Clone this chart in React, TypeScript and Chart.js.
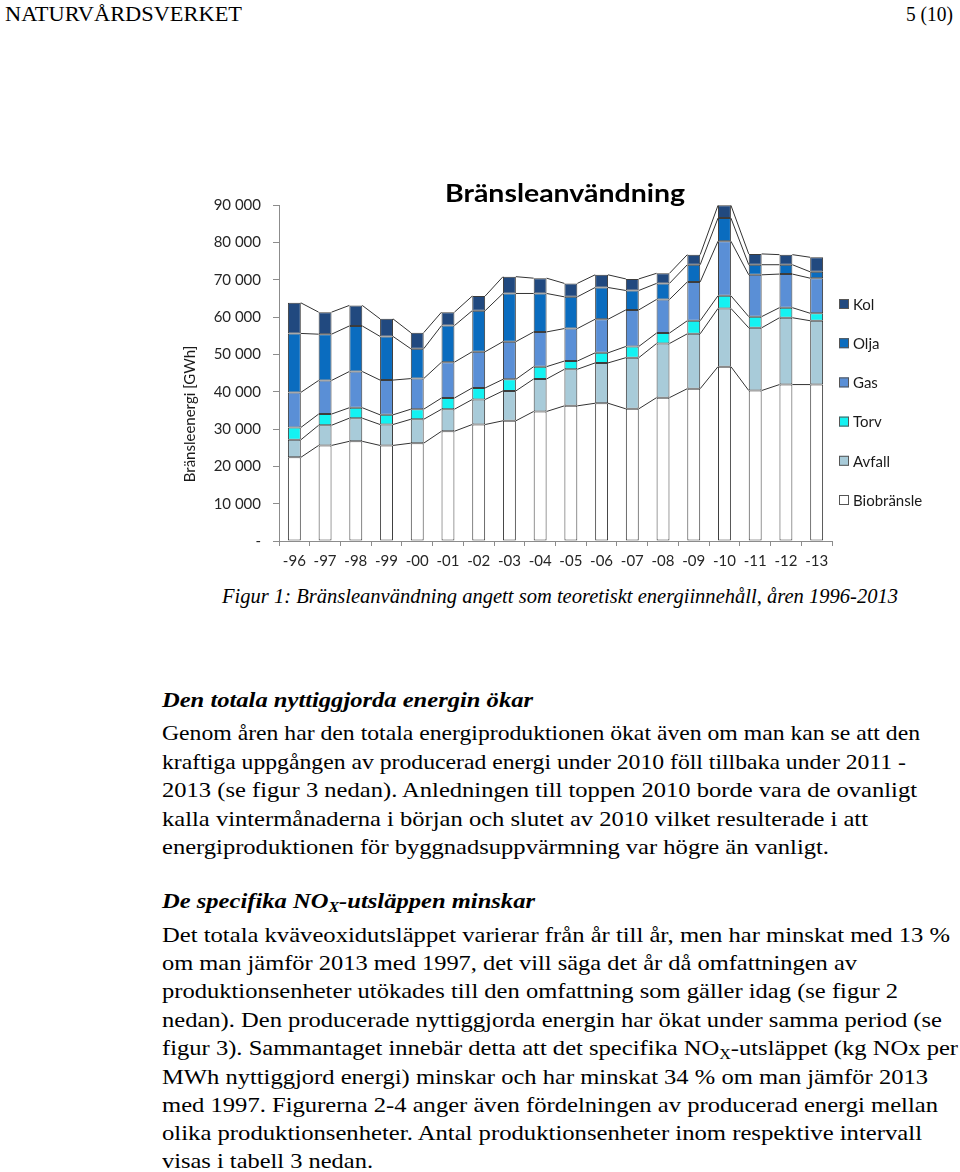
import React, { useEffect, useLayoutEffect, useRef } from "react";
import { Chart, registerables } from "chart.js";

Chart.register(...registerables);

const years = ["-96", "-97", "-98", "-99", "-00", "-01", "-02", "-03", "-04", "-05", "-06", "-07", "-08", "-09", "-10", "-11", "-12", "-13"];
const biobransle = [22400, 25600, 26700, 25600, 26200, 29400, 31200, 32200, 34700, 36200, 36900, 35400, 38400, 40800, 46700, 40300, 41900, 41900];
const avfall = [4700, 5400, 6200, 5600, 6400, 5900, 6700, 8000, 8700, 9800, 10800, 13700, 14500, 14700, 15600, 16800, 17900, 17100];
const torv = [3300, 3000, 2800, 2600, 2700, 3000, 3100, 3100, 3300, 2200, 2700, 3000, 2800, 3500, 3400, 3000, 2700, 2000];
const gas = [9400, 9000, 9700, 9300, 8200, 9600, 9700, 10100, 9300, 8700, 9000, 9800, 9000, 10400, 14600, 11200, 9000, 9400];
const olja = [15800, 12400, 12200, 11700, 8000, 9800, 11000, 12900, 10300, 8500, 8500, 5200, 4300, 4600, 6200, 2700, 2500, 1700];
const kol = [8200, 5900, 5500, 4700, 4300, 3600, 3900, 4500, 4100, 3600, 3400, 3100, 2700, 2700, 3400, 2900, 2700, 3900];

const seriesNames = ["Biobränsle", "Avfall", "Torv", "Gas", "Olja", "Kol"];
const seriesColors = ["#FFFFFF", "#A8CBD9", "#14F2F2", "#5A8FD6", "#0A6CBF", "#21497F"];
const yMax = 90000;
const yStep = 10000;

const chartTitle = "Bränsleanvändning";
const yAxisTitle = "Bränsleenergi [GWh]";
const FONT = "Lato, 'Noto Sans', sans-serif";

const formatTick = (v: number) => {
  if (v === 0) return "-";
  const s = String(Math.round(v));
  return s.replace(/\B(?=(\d{3})+(?!\d))/g, " ");
};

const seriesLinesPlugin = {
  id: "seriesLines",
  afterDatasetsDraw(chart: any) {
    const ctx = chart.ctx;
    ctx.save();
    ctx.strokeStyle = "#333333";
    ctx.lineWidth = 1;
    chart.data.datasets.forEach((_: any, d: number) => {
      const meta = chart.getDatasetMeta(d);
      ctx.beginPath();
      for (let j = 0; j < meta.data.length - 1; j++) {
        const a = meta.data[j];
        const b = meta.data[j + 1];
        ctx.moveTo(a.x + a.width / 2, a.y);
        ctx.lineTo(b.x - b.width / 2, b.y);
      }
      ctx.stroke();
    });
    ctx.restore();
  },
};

const sideLegendPlugin = {
  id: "sideLegend",
  afterDraw(chart: any) {
    const ctx = chart.ctx;
    const area = chart.chartArea;
    const ds = chart.data.datasets.slice().reverse();
    ctx.save();
    ctx.font = `15px ${FONT}`;
    ctx.textBaseline = "middle";
    ctx.textAlign = "left";
    const x0 = area.right + 7;
    const yStart = 139;
    const gap = 39.2;
    ds.forEach((d: any, i: number) => {
      const yc = yStart + i * gap;
      ctx.fillStyle = d.backgroundColor;
      ctx.fillRect(x0, yc - 5, 10, 10);
      ctx.strokeStyle = "#555555";
      ctx.lineWidth = 1;
      ctx.strokeRect(x0 + 0.5, yc - 4.5, 9, 9);
      ctx.fillStyle = "#1a1a1a";
      ctx.fillText(d.label, x0 + 14, yc + 1);
    });
    ctx.restore();
  },
};

const titlesPlugin = {
  id: "titles",
  afterDraw(chart: any) {
    const ctx = chart.ctx;
    // chart title, slightly widened like the original
    ctx.save();
    ctx.font = `bold 25px ${FONT}`;
    const w = ctx.measureText(chartTitle).width;
    const sx = 240 / w;
    ctx.translate(390, 37);
    ctx.scale(sx, 1);
    ctx.fillStyle = "#000000";
    ctx.textAlign = "center";
    ctx.textBaseline = "alphabetic";
    ctx.fillText(chartTitle, 0, 0);
    ctx.restore();
    // y axis title
    ctx.save();
    ctx.translate(15, 249);
    ctx.rotate(-Math.PI / 2);
    ctx.font = `15px ${FONT}`;
    ctx.fillStyle = "#1a1a1a";
    ctx.textAlign = "center";
    ctx.textBaseline = "middle";
    ctx.fillText(yAxisTitle, 0, 0);
    ctx.restore();
  },
};

function FuelChart() {
  const ref = useRef<HTMLCanvasElement | null>(null);
  useEffect(() => {
    if (!ref.current) return;
    const series = [biobransle, avfall, torv, gas, olja, kol];
    const chart = new Chart(ref.current, {
      type: "bar",
      data: {
        labels: years,
        datasets: series.map((data, i) => ({
          label: seriesNames[i],
          data,
          backgroundColor: seriesColors[i],
          borderColor: "#3c3c3c",
          borderWidth: 1,
          borderSkipped: false,
          barPercentage: 0.42,
          categoryPercentage: 1,
        })),
      },
      options: {
        responsive: false,
        animation: false,
        layout: { padding: { left: 0, right: 118, top: 40, bottom: 0 } },
        plugins: {
          legend: { display: false },
          tooltip: { enabled: false },
          title: { display: false },
        },
        scales: {
          x: {
            stacked: true,
            afterFit: (s: any) => { s.height = 39; },
            grid: { display: true, drawOnChartArea: false, drawTicks: true, tickLength: 5, color: "#8c8c8c", offset: true },
            border: { display: true, color: "#8c8c8c" },
            ticks: { color: "#262626", font: { family: FONT, size: 15 }, padding: 6, maxRotation: 0, autoSkip: false },
          },
          y: {
            stacked: true,
            min: 0,
            max: yMax,
            afterFit: (s: any) => { s.width = 104; },
            grid: { display: true, drawOnChartArea: false, drawTicks: true, tickLength: 6, color: "#8c8c8c" },
            border: { display: true, color: "#8c8c8c" },
            ticks: { stepSize: yStep, color: "#262626", font: { family: FONT, size: 15 }, padding: 12, callback: (v: any) => formatTick(Number(v)) },
          },
        },
      },
      plugins: [seriesLinesPlugin, sideLegendPlugin, titlesPlugin],
    } as any);
    return () => chart.destroy();
  }, []);
  return <canvas ref={ref} width={775} height={415} style={{ position: "absolute", left: 175, top: 165, width: 775, height: 415 }} />;
}

const serif = "'Liberation Serif', 'Times New Roman', serif";

function FitLine({ x, right, y, children, style, size = 22 }: any) {
  const ref = useRef<HTMLDivElement | null>(null);
  useLayoutEffect(() => {
    const el = ref.current;
    if (!el) return;
    const apply = () => {
      el.style.transform = "none";
      const w = el.getBoundingClientRect().width;
      if (w > 0) el.style.transform = `scaleX(${(right - x) / w})`;
    };
    apply();
    (document as any).fonts?.ready?.then(apply);
  }, [x, right]);
  return (
    <div
      ref={ref}
      style={{
        position: "absolute",
        left: x,
        top: y - 14,
        height: 28,
        lineHeight: "28px",
        whiteSpace: "nowrap",
        fontFamily: serif,
        fontSize: size,
        color: "#000",
        transformOrigin: "left center",
        ...style,
      }}
    >
      {children}
    </div>
  );
}

const Sub = ({ children }: any) => <sub style={{ fontSize: "0.65em", verticalAlign: "-0.25em" }}>{children}</sub>;

const para1 = [
  "Genom åren har den totala energiproduktionen ökat även om man kan se att den",
  "kraftiga uppgången av producerad energi under 2010 föll tillbaka under 2011 -",
  "2013 (se figur 3 nedan). Anledningen till toppen 2010 borde vara de ovanligt",
  "kalla vintermånaderna i början och slutet av 2010 vilket resulterade i att",
  "energiproduktionen för byggnadsuppvärmning var högre än vanligt.",
];
const para1Y = [733, 762, 790, 819, 847];
const para1Right = [920, 906, 917, 868, 829];

const para2Y = [935, 963, 991, 1020, 1048, 1077, 1105, 1133, 1161];
const para2Right = [950, 857, 898, 942, 958, 928, 938, 922, 373];

export default function App() {
  const para2: any[] = [
    "Det totala kväveoxidutsläppet varierar från år till år, men har minskat med 13 %",
    "om man jämför 2013 med 1997, det vill säga det år då omfattningen av",
    "produktionsenheter utökades till den omfattning som gäller idag (se figur 2",
    "nedan). Den producerade nyttiggjorda energin har ökat under samma period (se",
    <>figur 3). Sammantaget innebär detta att det specifika NO<Sub>X</Sub>-utsläppet (kg NOx per</>,
    "MWh nyttiggjord energi) minskar och har minskat 34 % om man jämför 2013",
    "med 1997. Figurerna 2-4 anger även fördelningen av producerad energi mellan",
    "olika produktionsenheter. Antal produktionsenheter inom respektive intervall",
    "visas i tabell 3 nedan.",
  ];
  return (
    <div style={{ position: "absolute", left: 0, top: 0, width: 960, height: 1172, background: "#fff", overflow: "hidden" }}>
      <FitLine x={5} right={242} y={14} size={20}>NATURVÅRDSVERKET</FitLine>
      <FitLine x={906} right={953} y={14} size={20}>5 (10)</FitLine>
      <FuelChart />
      <FitLine x={222} right={898} y={596} size={20.5} style={{ fontStyle: "italic" }}>
        Figur 1: Bränsleanvändning angett som teoretiskt energiinnehåll, åren 1996-2013
      </FitLine>
      <FitLine x={162} right={533} y={700} style={{ fontWeight: "bold", fontStyle: "italic" }}>Den totala nyttiggjorda energin ökar</FitLine>
      {para1.map((t, i) => <FitLine key={"a" + i} x={162} right={para1Right[i]} y={para1Y[i]}>{t}</FitLine>)}
      <FitLine x={162} right={535} y={901} style={{ fontWeight: "bold", fontStyle: "italic" }}>De specifika NO<Sub>X</Sub>-utsläppen minskar</FitLine>
      {para2.map((t, i) => <FitLine key={"b" + i} x={162} right={para2Right[i]} y={para2Y[i]}>{t}</FitLine>)}
    </div>
  );
}
